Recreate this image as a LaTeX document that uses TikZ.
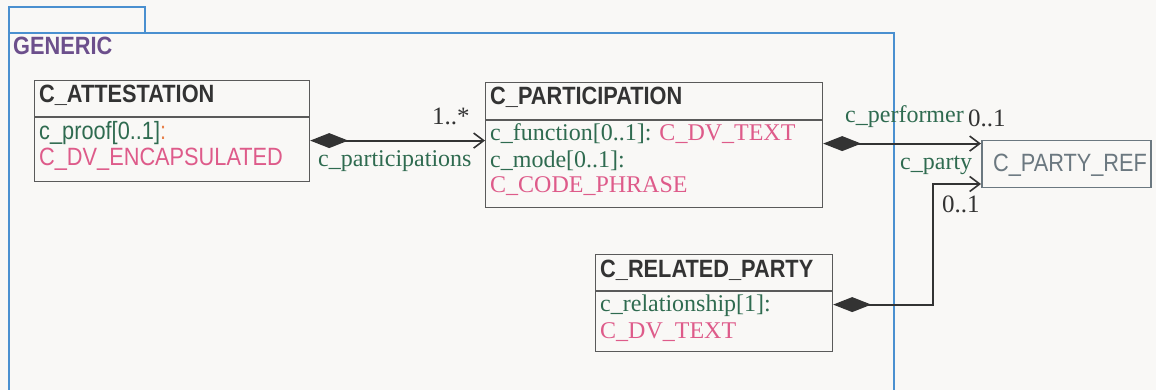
\documentclass[tikz,border=0pt]{standalone}
\usepackage{fontspec}
\setmainfont{Liberation Serif}
\newfontfamily\condsans[FakeStretch=0.87]{Liberation Sans}
\usetikzlibrary{arrows.meta}
\definecolor{bgc}{HTML}{F9F8F6}
\definecolor{frameblue}{HTML}{4A90D0}
\definecolor{pkgpurple}{HTML}{6C4F8C}
\definecolor{tgreen}{HTML}{2F6B50}
\definecolor{tpink}{HTML}{DE5B8A}
\definecolor{tdark}{HTML}{333333}
\definecolor{torange}{HTML}{E8804A}
\definecolor{boxgray}{HTML}{5A5A5A}
\definecolor{refgray}{HTML}{6B7880}
\tikzset{
  classbox/.style={draw=boxgray, line width=1.2pt, fill=none, inner sep=0pt, anchor=north west},
  refbox/.style={draw=refgray, line width=1.5pt, inner sep=0pt, anchor=north west},
  sepline/.style={draw=boxgray, line width=1.2pt},
  txt/.style={inner sep=0pt, anchor=base west},
  titletxt/.style={txt, text=tdark, font=\condsans\bfseries\fontsize{25}{25}\selectfont},
  sansattr/.style={txt, font=\condsans\fontsize{25}{25}\selectfont},
  serifattr/.style={txt, font=\fontsize{24}{24}\selectfont},
  mult/.style={txt, text=tdark, font=\fontsize{25}{25}\selectfont},
  rolelbl/.style={txt, text=tgreen, font=\fontsize{24}{24}\selectfont},
  assoc/.style={draw=tdark, line width=2pt, {Diamond[length=38pt,width=15pt,fill=tdark]}-{Straight Barb[length=10pt,width=15pt,line width=1.6pt]}},
  pkgline/.style={draw=frameblue, line width=1.6pt}
}
\begin{document}
\begin{tikzpicture}[x=1pt,y=-1pt]
\fill[bgc] (0,0) rectangle (1156,390);
\useasboundingbox (0,0) rectangle (1156,390);
% package frame
\draw[pkgline] (9,33) -- (9,7) -- (145,7) -- (145,33);
\draw[pkgline] (9,390) -- (9,33) -- (894,33) -- (894,390);
\node[txt, text=pkgpurple, font=\condsans\bfseries\fontsize{25}{25}\selectfont] (pkgname) at (13,55) {GENERIC};
% C_ATTESTATION
\node[classbox, minimum width=275pt, minimum height=101pt] (attest) at (34,80) {};
\draw[sepline] ([yshift=-37pt]attest.north west) -- ([yshift=-37pt]attest.north east);
\node[titletxt] (attestT) at (39,103) {C\_ATTESTATION};
\node[sansattr] (attestA1) at (39,140) {\textcolor{tgreen}{c\_proof[0..1]}\textcolor{torange}{:}};
\node[sansattr, text=tpink] (attestA2) at (39,166) {C\_DV\_ENCAPSULATED};
% C_PARTICIPATION
\node[classbox, minimum width=337pt, minimum height=125pt] (part) at (485,82) {};
\draw[sepline] ([yshift=-38pt]part.north west) -- ([yshift=-38pt]part.north east);
\node[titletxt] (partT) at (490,105) {C\_PARTICIPATION};
\node[serifattr] (partA1) at (490,141) {\textcolor{tgreen}{c\_function[0..1]:} \textcolor{tpink}{C\_DV\_TEXT}};
\node[serifattr, text=tgreen] (partA2) at (490,168) {c\_mode[0..1]:};
\node[serifattr, text=tpink] (partA3) at (490,193) {C\_CODE\_PHRASE};
% C_PARTY_REF
\node[refbox, minimum width=169pt, minimum height=47pt] (ref) at (981,140) {};
\node[txt, anchor=base, text=refgray, font=\condsans\fontsize{25}{25}\selectfont] (refT) at (1070,172) {C\_PARTY\_REF};
% C_RELATED_PARTY
\node[classbox, minimum width=237pt, minimum height=97pt] (rel) at (595,254) {};
\draw[sepline] ([yshift=-37pt]rel.north west) -- ([yshift=-37pt]rel.north east);
\node[titletxt] (relT) at (600,277) {C\_RELATED\_PARTY};
\node[serifattr, text=tgreen] (relA1) at (600,311) {c\_relationship[1]:};
\node[serifattr, text=tpink] (relA2) at (600,338) {C\_DV\_TEXT};
% associations
\draw[assoc] ([yshift=-9.5pt]attest.east) -- ([yshift=-9.5pt]attest.east -| part.west);
\node[mult] (m1) at (432,125) {1..*};
\node[rolelbl] (r1) at (318,167) {c\_participations};
\draw[assoc] ([yshift=1.5pt]part.east) -- ([yshift=1.5pt]part.east -| ref.west);
\node[rolelbl] (r2) at (845,123) {c\_performer};
\node[mult] (m2) at (968,127) {0..1};
\coordinate (bend) at (933,184);
\draw[assoc] ([yshift=-1.5pt]rel.east) -| (bend) -- (bend -| ref.west);
\node[rolelbl] (r3) at (900,170) {c\_party};
\node[mult] (m3) at (942,212) {0..1};
\end{tikzpicture}
\end{document}
